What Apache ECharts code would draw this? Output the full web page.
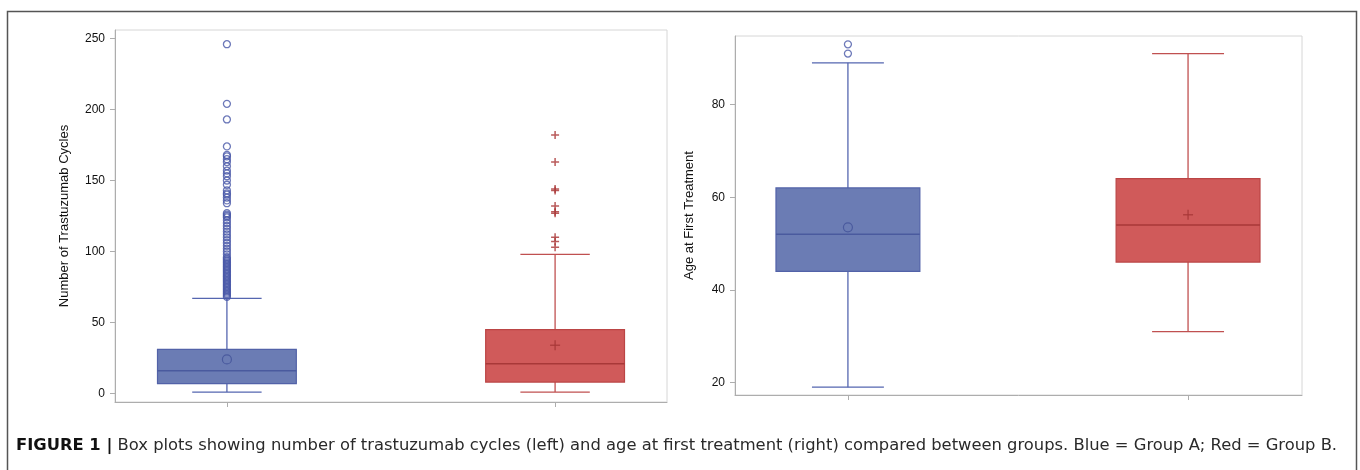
<!DOCTYPE html>
<html>
<head>
<meta charset="utf-8">
<script src="https://cdn.jsdelivr.net/npm/echarts@6/dist/echarts.min.js"></script>
<style>
html,body{margin:0;padding:0;background:#fff;}
#c{width:1360px;height:470px;}
</style>
</head>
<body>
<div id="c"></div>
<script>
// ---- data ----
const groups = ['Group A', 'Group B'];
// [min whisker, Q1, median, Q3, max whisker]
const cyclesBoxA = [1, 7, 16, 31, 67];
const cyclesBoxB = [1, 8, 21, 45, 98];
const cyclesMean = [24, 34];
const cyclesOutA = [68, 69, 70, 71, 72, 73, 74, 75, 76, 77, 78, 79, 80, 81, 82, 83, 84, 85, 86, 87, 88, 89, 90, 91, 92, 93, 94, 95, 96, 98, 100, 102, 104, 106, 108, 110, 112, 114, 116, 118, 120, 122, 124, 125, 126, 127, 134, 136, 138, 140, 141, 143, 147, 150, 153, 155, 157, 160, 163, 165, 167, 168, 174, 193, 204, 246];
const cyclesOutB = [103, 107, 110, 127, 128, 132, 143, 144, 163, 182];
const ageBoxA = [19, 44, 52, 62, 89];
const ageBoxB = [31, 46, 54, 64, 91];
const ageMean = [53.5, 56.2];
const ageOutA = [91, 93];
const ageOutB = [];
const cyclesTicks = [0, 50, 100, 150, 200, 250];
const ageTicks = [20, 40, 60, 80];

const COL = [
  {fill: '#6b7cb4', edge: '#5262a8', line: '#5566b0', med: '#4a5a9e', out: '#4858a8'},
  {fill: '#d05a5a', edge: '#bb4545', line: '#c05050', med: '#a83838', out: '#a83232'}
];
const BOXW = 0.423;

function renderBox(params, api) {
  const i = params.dataIndex;
  const c = COL[i];
  const x = api.value(0);
  const pMin = api.coord([x, api.value(1)]);
  const pQ1 = api.coord([x, api.value(2)]);
  const pMed = api.coord([x, api.value(3)]);
  const pQ3 = api.coord([x, api.value(4)]);
  const pMax = api.coord([x, api.value(5)]);
  const pMean = api.coord([x, api.value(6)]);
  const hw = api.size([BOXW, 0])[0] / 2;
  const cw = hw / 2;
  const cx = pMed[0];
  const ls = {stroke: c.line, lineWidth: 1.3};
  const ch = [
    {type: 'line', shape: {x1: cx, y1: pQ3[1], x2: cx, y2: pMax[1]}, style: ls},
    {type: 'line', shape: {x1: cx, y1: pMin[1], x2: cx, y2: pQ1[1]}, style: ls},
    {type: 'line', shape: {x1: cx - cw, y1: pMax[1], x2: cx + cw, y2: pMax[1]}, style: ls},
    {type: 'line', shape: {x1: cx - cw, y1: pMin[1], x2: cx + cw, y2: pMin[1]}, style: ls},
    {type: 'rect', shape: {x: cx - hw, y: pQ3[1], width: 2 * hw, height: pQ1[1] - pQ3[1]},
      style: {fill: c.fill, stroke: c.edge, lineWidth: 1.2}},
    {type: 'line', shape: {x1: cx - hw, y1: pMed[1], x2: cx + hw, y2: pMed[1]}, style: {stroke: c.med, lineWidth: 1.5}}
  ];
  if (i === 0) {
    ch.push({type: 'circle', shape: {cx: cx, cy: pMean[1], r: 4.5}, style: {fill: 'none', stroke: c.med, lineWidth: 1.2}});
  } else {
    ch.push({type: 'line', shape: {x1: cx - 5, y1: pMean[1], x2: cx + 5, y2: pMean[1]}, style: {stroke: c.med, lineWidth: 1.2}});
    ch.push({type: 'line', shape: {x1: cx, y1: pMean[1] - 5, x2: cx, y2: pMean[1] + 5}, style: {stroke: c.med, lineWidth: 1.2}});
  }
  return {type: 'group', children: ch};
}

function boxData(boxA, boxB, mean) {
  return [[1].concat(boxA, [mean[0]]), [2].concat(boxB, [mean[1]])];
}
function outData(xpos, arr) { return arr.map(v => [xpos, v]); }

const FONT = "'Liberation Sans', Arial, sans-serif";
const CAPFONT = "'DejaVu Sans', sans-serif";
const axisLineStyle = {color: '#adadad', width: 1};

function yAxis(gi, min, max, ticks, name, gap) {
  return {
    type: 'value', gridIndex: gi, min: min, max: max,
    name: name, nameLocation: 'middle', nameGap: gap, nameRotate: 90,
    nameTextStyle: {fontFamily: FONT, fontSize: 13, color: '#111'},
    axisLine: {show: true, lineStyle: axisLineStyle},
    axisTick: {show: true, length: 5, customValues: ticks, lineStyle: axisLineStyle},
    axisLabel: {customValues: ticks, fontFamily: FONT, fontSize: 12, color: '#111', margin: 10},
    splitLine: {show: false}
  };
}
function xAxis(gi, min, max) {
  return {
    type: 'value', gridIndex: gi, min: min, max: max,
    axisLine: {show: true, onZero: false, lineStyle: axisLineStyle},
    axisTick: {show: true, length: 5, customValues: [1, 2], lineStyle: axisLineStyle},
    axisLabel: {show: false},
    splitLine: {show: false}
  };
}

const chart = echarts.init(document.getElementById('c'), null, {renderer: 'canvas'});
chart.setOption({
  animation: false,
  backgroundColor: '#fff',
  textStyle: {fontFamily: FONT},
  grid: [
    {left: 115, top: 30, width: 552, height: 372, show: true, borderColor: '#d6d6d6', borderWidth: 1},
    {left: 735, top: 36, width: 567, height: 359, show: true, borderColor: '#d6d6d6', borderWidth: 1}
  ],
  xAxis: [xAxis(0, 0.659, 2.341), xAxis(1, 0.668, 2.335)],
  yAxis: [
    yAxis(0, -6, 256, cyclesTicks, 'Number of Trastuzumab Cycles', 44),
    yAxis(1, 17.3, 94.8, ageTicks, 'Age at First Treatment', 39)
  ],
  series: [
    {type: 'custom', xAxisIndex: 0, yAxisIndex: 0, renderItem: renderBox,
      encode: {x: 0, y: [1, 2, 3, 4, 5]}, data: boxData(cyclesBoxA, cyclesBoxB, cyclesMean), z: 2},
    {type: 'custom', xAxisIndex: 1, yAxisIndex: 1, renderItem: renderBox,
      encode: {x: 0, y: [1, 2, 3, 4, 5]}, data: boxData(ageBoxA, ageBoxB, ageMean), z: 2},
    {type: 'scatter', xAxisIndex: 0, yAxisIndex: 0, data: outData(1, cyclesOutA), symbol: 'circle', symbolSize: 7,
      itemStyle: {color: 'rgba(0,0,0,0)', borderColor: COL[0].out, borderWidth: 1.3}, z: 3},
    {type: 'scatter', xAxisIndex: 0, yAxisIndex: 0, data: outData(2, cyclesOutB), symbol: 'path://M0,5H10M5,0V10', symbolSize: 8,
      itemStyle: {color: 'rgba(0,0,0,0)', borderColor: COL[1].out, borderWidth: 1.5}, z: 3},
    {type: 'scatter', xAxisIndex: 1, yAxisIndex: 1, data: outData(1, ageOutA), symbol: 'circle', symbolSize: 7,
      itemStyle: {color: 'rgba(0,0,0,0)', borderColor: COL[0].out, borderWidth: 1.3}, z: 3},
    {type: 'scatter', xAxisIndex: 1, yAxisIndex: 1, data: outData(2, ageOutB), symbol: 'path://M0,5H10M5,0V10', symbolSize: 8,
      itemStyle: {color: 'rgba(0,0,0,0)', borderColor: COL[1].out, borderWidth: 1.5}, z: 3}
  ],
  graphic: [
    {type: 'rect', left: 5, top: 9, shape: {x: 0, y: 0, width: 1349, height: 480},
      style: {fill: 'none', stroke: '#555', lineWidth: 1.5}, silent: true},
    {type: 'text', x: 16, y: 446,
      style: {
        text: '{b|FIGURE 1 |} Box plots showing number of trastuzumab cycles (left) and age at first treatment (right) compared between groups. Blue = Group A; Red = Group B.',
        fontFamily: CAPFONT, fontSize: 16.35, fill: '#2a2a2a', verticalAlign: 'middle',
        rich: {b: {fontFamily: CAPFONT, fontSize: 16.35, fontWeight: 'bold', fill: '#111'}}
      }}
  ]
});
</script>
</body>
</html>
